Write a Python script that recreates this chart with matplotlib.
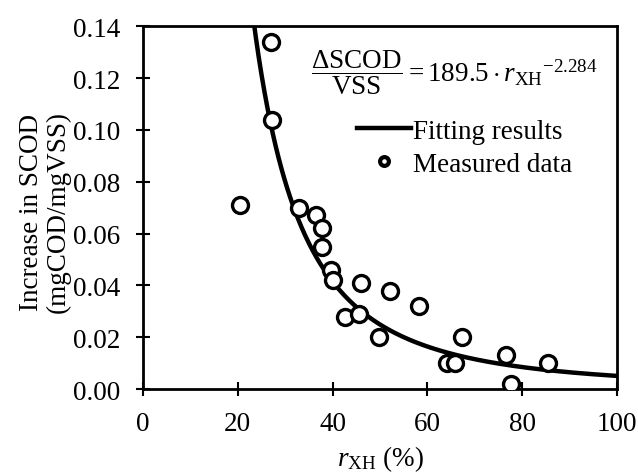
import numpy as np
import matplotlib
matplotlib.use('Agg')
import matplotlib.pyplot as plt

plt.rcParams['font.family'] = 'Liberation Serif'
plt.rcParams['mathtext.fontset'] = 'custom'
plt.rcParams['mathtext.rm'] = 'Liberation Serif'
plt.rcParams['mathtext.it'] = 'Liberation Serif:italic'

# measured data (r_XH in %, increase in SCOD in mgCOD/mgVSS)
r_xh = [20.5, 27.0, 27.3, 33.0, 36.6, 37.8, 37.7, 39.7, 40.2, 42.6, 45.6,
        46.0, 49.9, 52.1, 58.2, 64.1, 65.8, 67.4, 76.7, 77.6, 85.5]
scod = [0.071, 0.134, 0.104, 0.070, 0.067, 0.062, 0.055, 0.046, 0.042, 0.028, 0.029,
        0.041, 0.020, 0.038, 0.032, 0.010, 0.010, 0.020, 0.013, 0.002, 0.010]

# fitted power law shown on the chart
fit_a = 189.5
fit_b = -2.284

x_fit = np.linspace(20, 100, 400)
y_fit = fit_a * x_fit ** fit_b

fs = 19.5

fig = plt.figure(figsize=(6.38, 4.77), dpi=100)
ax = fig.add_axes([0.224, 0.182, 0.743, 0.761])

ax.plot(x_fit, y_fit, color='k', linewidth=3.2, label='Fitting results', zorder=2)
ax.plot(r_xh, scod, linestyle='none', marker='o', ms=11.5, mfc='white', mec='k',
        mew=2.4, label='Measured data', zorder=3)

ax.set_xlim(0, 100)
ax.set_ylim(0, 0.14)
ax.set_xticks(range(0, 101, 20))
ax.set_yticks(np.arange(0, 0.141, 0.02))
ax.yaxis.set_major_formatter(matplotlib.ticker.FormatStrFormatter('%.2f'))
ax.tick_params(direction='inout', length=10, width=1.5, labelsize=fs)
ax.tick_params(axis='x', pad=11)
ax.tick_params(axis='y', pad=11)
plt.setp(ax.spines.values(), linewidth=2)

ax.set_xlabel(r'$r_{\mathrm{XH}}$ (%)', fontsize=fs, labelpad=5)
ax.set_ylabel('Increase in SCOD\n(mgCOD/mgVSS)', fontsize=fs, linespacing=1.05, va='center')
ax.yaxis.set_label_coords(-0.207, 0.49)

ax.text(35.5, 0.1225, r'$\dfrac{\Delta\mathrm{SCOD}}{\mathrm{VSS}} = 189.5 \cdot {r_{\mathrm{XH}}}^{-2.284}$',
        fontsize=fs, va='center', ha='left')

leg = ax.legend(loc='upper left', bbox_to_anchor=(0.452, 0.745), frameon=False, fontsize=fs,
                handlelength=2.0, handletextpad=0.05, labelspacing=0.3, borderpad=0,
                borderaxespad=0, markerscale=0.55)
leg.legend_handles[1].set_markeredgewidth(3)

plt.savefig('out.png', dpi=100)
